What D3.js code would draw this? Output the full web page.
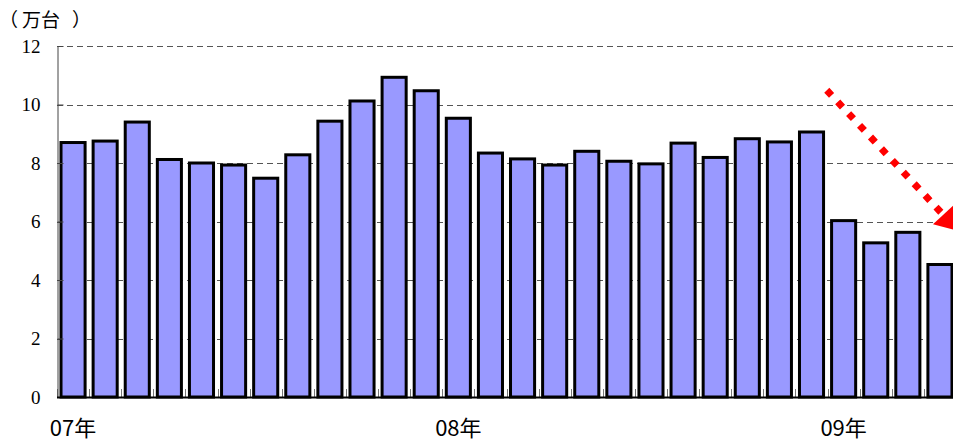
<!DOCTYPE html>
<html>
<head>
<meta charset="utf-8">
<script src="https://cdn.jsdelivr.net/npm/d3@7"></script>
<style>
  html, body { margin: 0; padding: 0; background: #fff; }
  svg { display: block; }
  text { text-spacing-trim: space-all; }
</style>
</head>
<body>
<svg id="chart" width="953" height="441"></svg>
<script>
// Monthly sales, Jan 2007 – Apr 2009 (unit: 10,000 vehicles)
const months = [
  "07/01","07/02","07/03","07/04","07/05","07/06","07/07","07/08","07/09","07/10","07/11","07/12",
  "08/01","08/02","08/03","08/04","08/05","08/06","08/07","08/08","08/09","08/10","08/11","08/12",
  "09/01","09/02","09/03","09/04"
];
const sales = [
  8.70, 8.75, 9.40, 8.12, 8.00, 7.93, 7.48, 8.28, 9.43, 10.12, 10.93, 10.47,
  9.53, 8.34, 8.14, 7.93, 8.40, 8.06, 7.97, 8.68, 8.19, 8.83, 8.72, 9.06,
  6.03, 5.27, 5.63, 4.53
];
const yearLabels = [
  { index: 0, text: "07年" },
  { index: 12, text: "08年" },
  { index: 24, text: "09年" }
];
const yTicks = [0, 2, 4, 6, 8, 10, 12];
const unitLabel = ["（", "万台", "）"];
// Downward trend arrow, in (month index, value) units
const trendArrow = { from: [24.05, 10.4], to: [28.07, 5.68] };

const svg = d3.select("#chart");
const W = 953, H = 441;
const plotLeft = 57, plotRight = 956, plotTop = 46, plotBottom = 397;

const x = d3.scaleBand()
  .domain(d3.range(months.length))
  .range([plotLeft, plotRight])
  .paddingInner(0.25)
  .paddingOuter(0.125);

// continuous position along the month axis for annotations
const xPos = d3.scaleLinear().domain([0, months.length]).range([plotLeft, plotRight]);

const y = d3.scaleLinear().domain([0, 12]).range([plotBottom, plotTop]);

// horizontal dashed gridlines
svg.append("g")
  .selectAll("line")
  .data(yTicks.filter(d => d > 0))
  .join("line")
  .attr("x1", plotLeft).attr("x2", W)
  .attr("y1", d => Math.round(y(d)) + 0.5)
  .attr("y2", d => Math.round(y(d)) + 0.5)
  .attr("stroke", "#555")
  .attr("stroke-width", 1)
  .attr("stroke-dasharray", "6,4");

// x tick marks at month boundaries
svg.append("g")
  .selectAll("line")
  .data(d3.range(months.length + 1))
  .join("line")
  .attr("x1", d => Math.round(xPos(d)) + 0.5)
  .attr("x2", d => Math.round(xPos(d)) + 0.5)
  .attr("y1", plotBottom)
  .attr("y2", plotBottom - 8)
  .attr("stroke", "#777")
  .attr("stroke-width", 1);

// bars
svg.append("g")
  .selectAll("rect")
  .data(sales)
  .join("rect")
  .attr("x", (d, i) => x(i))
  .attr("y", d => y(d))
  .attr("width", x.bandwidth())
  .attr("height", d => plotBottom - y(d))
  .attr("fill", "#9999FF")
  .attr("stroke", "#000")
  .attr("stroke-width", 3);

// y axis
const yAxis = d3.axisLeft(y)
  .tickValues(yTicks)
  .tickSizeInner(-6)
  .tickSizeOuter(0)
  .tickPadding(17)
  .tickFormat(d3.format("d"));

const gy = svg.append("g")
  .attr("transform", `translate(${plotLeft + 0.5},0)`)
  .call(yAxis);
gy.select(".domain").attr("stroke", "#444").attr("stroke-width", 1);
gy.selectAll(".tick line").attr("stroke", "#444");
gy.selectAll(".tick text")
  .attr("font-family", "'Liberation Serif', 'Times New Roman', serif")
  .attr("font-size", 19)
  .attr("fill", "#000");

// baseline
svg.append("line")
  .attr("x1", plotLeft).attr("x2", W)
  .attr("y1", plotBottom + 0.5).attr("y2", plotBottom + 0.5)
  .attr("stroke", "#000")
  .attr("stroke-width", 2);

// year labels under the January bars
svg.append("g")
  .selectAll("text")
  .data(yearLabels)
  .join("text")
  .attr("x", d => x(d.index) + x.bandwidth() / 2)
  .attr("y", 436)
  .attr("text-anchor", "middle")
  .attr("font-family", "'Noto Sans CJK JP', 'Noto Sans', sans-serif")
  .attr("font-size", 22)
  .attr("fill", "#000")
  .text(d => d.text);

// unit label, with the brackets set wide apart
const unit = svg.append("text")
  .attr("y", 27)
  .attr("font-family", "'Noto Sans CJK JP', 'Noto Sans', sans-serif")
  .attr("font-size", 19)
  .attr("fill", "#000");
const unitX = [-1, 22, 72];
unit.selectAll("tspan")
  .data(unitLabel)
  .join("tspan")
  .attr("x", (d, i) => unitX[i])
  .text(d => d);

// trend arrow: dotted shaft + triangular head
const p0 = [xPos(trendArrow.from[0]), y(trendArrow.from[1])];
const p1 = [xPos(trendArrow.to[0]), y(trendArrow.to[1])];
const dx = p1[0] - p0[0], dy = p1[1] - p0[1];
const len = Math.hypot(dx, dy);
const ux = dx / len, uy = dy / len;
const headLen = 22, headHalf = 14;
const base = [p1[0] - ux * headLen, p1[1] - uy * headLen];

svg.append("line")
  .attr("x1", p0[0] - ux * 3.5).attr("y1", p0[1] - uy * 3.5)
  .attr("x2", base[0]).attr("y2", base[1])
  .attr("stroke", "#FF0000")
  .attr("stroke-width", 7)
  .attr("stroke-dasharray", "7,9");

svg.append("path")
  .attr("d", d3.line()([
    [base[0] - uy * headHalf, base[1] + ux * headHalf],
    p1,
    [base[0] + uy * headHalf, base[1] - ux * headHalf]
  ]) + "Z")
  .attr("fill", "#FF0000");
</script>
</body>
</html>
